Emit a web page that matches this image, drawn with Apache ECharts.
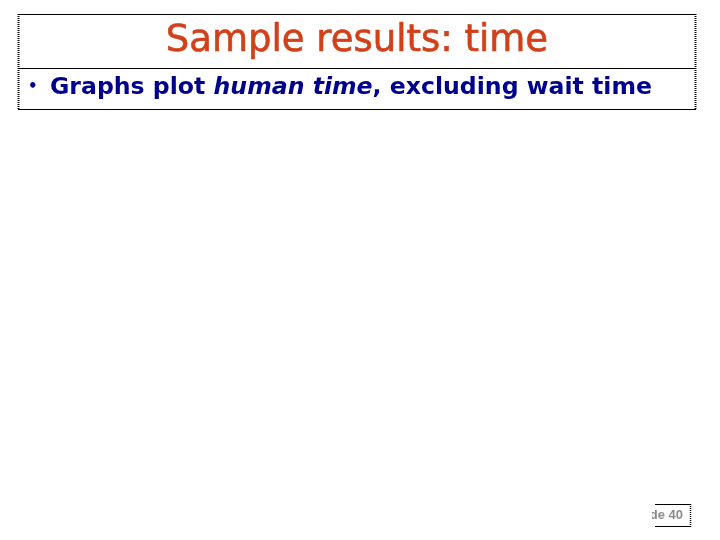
<!DOCTYPE html>
<html><head><meta charset="utf-8">
<script src="https://cdn.jsdelivr.net/npm/echarts@6/dist/echarts.min.js"></script>
<style>html,body{margin:0;padding:0;background:#fff}#c{width:720px;height:540px}</style>
</head><body><div id="c"></div>
<script>
const titleText = 'Sample results: time';
const bulletParts = ['Graphs plot ', 'human time', ', excluding wait time'];
const slideLabel = 'Slide 40';

const chart = echarts.init(document.getElementById('c'), null, {renderer: 'canvas'});
const F = '"DejaVu Sans", sans-serif';
const BLUE = '#00008f';
chart.setOption({
  backgroundColor: '#ffffff',
  animation: false,
  graphic: [
    {type: 'line', shape: {x1: 18, y1: 14.5, x2: 696, y2: 14.5}, style: {stroke: '#000', lineWidth: 1}},
    {type: 'line', shape: {x1: 18, y1: 68.5, x2: 696, y2: 68.5}, style: {stroke: '#000', lineWidth: 1}},
    {type: 'line', shape: {x1: 18, y1: 109.5, x2: 696, y2: 109.5}, style: {stroke: '#000', lineWidth: 1}},
    {type: 'line', shape: {x1: 18.5, y1: 14, x2: 18.5, y2: 110}, style: {stroke: '#000', lineWidth: 2, lineDash: [1, 1]}},
    {type: 'line', shape: {x1: 695.5, y1: 14, x2: 695.5, y2: 110}, style: {stroke: '#000', lineWidth: 2, lineDash: [1, 1]}},
    {type: 'text', x: 357, y: 41, style: {text: titleText, font: '37px ' + F, fill: '#d2401a', stroke: '#d2401a', lineWidth: 0.6, align: 'center', verticalAlign: 'middle'}},
    {type: 'text', x: 28, y: 87, style: {text: '•', font: 'bold 15px ' + F, fill: BLUE, verticalAlign: 'middle'}},
    {type: 'text', x: 50, y: 88, style: {
      text: '{n|' + bulletParts[0] + '}{i|' + bulletParts[1] + '}{n|' + bulletParts[2] + '}',
      verticalAlign: 'middle',
      rich: {
        n: {font: 'bold 23.6px ' + F, fill: BLUE},
        i: {font: 'italic bold 23.6px ' + F, fill: BLUE}
      }
    }},
    {type: 'text', x: 683, y: 515, style: {text: slideLabel, font: 'bold 13px "Liberation Sans", sans-serif', fill: '#8a8a8a', align: 'right', verticalAlign: 'middle'}},
    {type: 'rect', shape: {x: 560, y: 500, width: 92, height: 30}, style: {fill: '#fff'}},
    {type: 'line', shape: {x1: 655, y1: 504.5, x2: 691, y2: 504.5}, style: {stroke: '#000', lineWidth: 1}},
    {type: 'line', shape: {x1: 655, y1: 526.5, x2: 691, y2: 526.5}, style: {stroke: '#000', lineWidth: 1}},
    {type: 'line', shape: {x1: 690.5, y1: 504, x2: 690.5, y2: 527}, style: {stroke: '#000', lineWidth: 1.5, lineDash: [1, 1]}}
  ]
});
</script></body></html>
